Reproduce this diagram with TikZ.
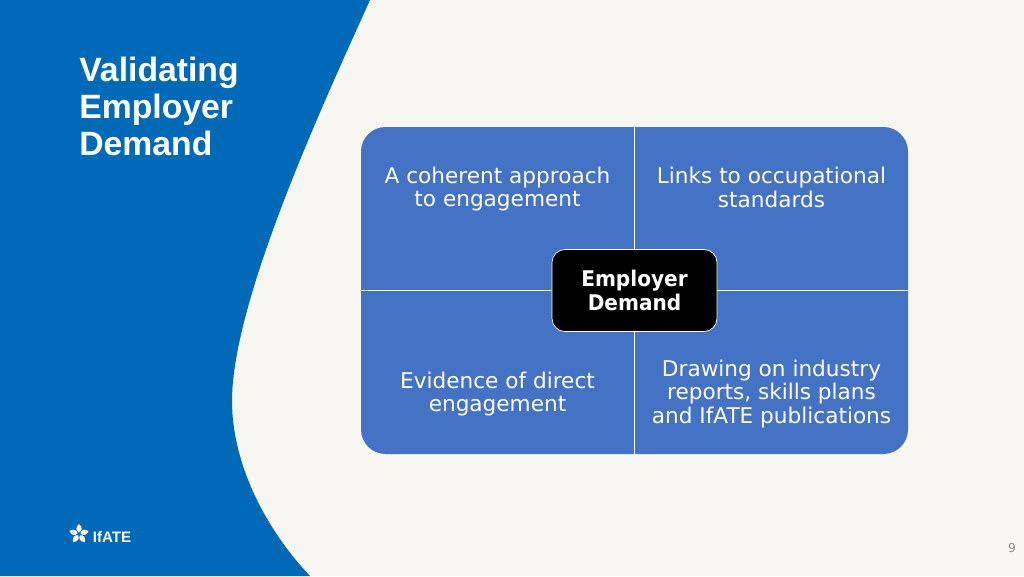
\documentclass[tikz,border=0pt]{standalone}
\usepackage{fontspec}
\setmainfont{DejaVu Sans}
\newfontfamily\titlefont{Liberation Sans}
\newfontfamily\hubfont{DejaVu Sans Bold}[FakeStretch=0.93]
\definecolor{sidebarblue}{HTML}{0069B8}
\definecolor{panelblue}{HTML}{4472C4}
\definecolor{pagecream}{HTML}{F7F6F1}
\definecolor{pagenum}{HTML}{8C8C8C}
\tikzset{
    quadtext/.style={text=white,align=center,font=\fontsize{12.3}{13.6}\selectfont},
    hubbox/.style={draw=white,fill=black,rounded corners=13pt*0.57,text=white,align=center,minimum width=165*0.02cm,minimum height=82*0.02cm,font=\hubfont\fontsize{12.3}{13.3}\selectfont},
    splitline/.style={draw=white,line width=0.5pt}
}
\begin{document}
\begin{tikzpicture}[x=0.02cm,y=-0.02cm]
    \useasboundingbox (0,0) rectangle (1024,576);
    \fill[pagecream] (0,0) rectangle (1024,576);

    % sidebar
    \fill[sidebarblue] (0,0) -- (370,0) .. controls (325,100) and (232,300) .. (232,401) .. controls (232,460) and (262,525) .. (310,576) -- (0,576) -- cycle;
    \node[anchor=north west,text=white,align=left,inner sep=0pt,font=\titlefont\fontsize{19.2}{21}\selectfont\bfseries] (title) at (79,57) {Validating\\Employer\\Demand};

    % logo
    \foreach \ang in {0,72,144,216,288} {
        \fill[white,rotate around={\ang:(79,534)}] (79,532.5) .. controls (75.5,530.5) and (75.5,527) .. (79,524) .. controls (82.5,527) and (82.5,530.5) .. (79,532.5) -- cycle;
    }
    \node[anchor=west,text=white,inner sep=0pt,font=\titlefont\fontsize{8.6}{10}\selectfont\bfseries] (logo) at (92.5,537) {IfATE};

    % panel
    \fill[panelblue,rounded corners=14pt] (361,127) rectangle (908,454);
    \coordinate (top) at (634.5,127);
    \coordinate (bottom) at (634.5,454);
    \coordinate (left) at (361,290.5);
    \coordinate (right) at (908,290.5);
    \draw[splitline] (top) -- (bottom);
    \draw[splitline] (left) -- (right);

    \node[hubbox] (hub) at (634.5,290.5) {Employer\\Demand};
    \node[quadtext] (approach) at (497.5,189) {A coherent approach\\to engagement};
    \node[quadtext] (links) at (771.5,187) {Links to occupational\\standards};
    \node[quadtext] (evidence) at (497.5,394) {Evidence of direct\\engagement};
    \node[quadtext] (reports) at (771.5,394) {Drawing on industry\\reports, skills plans\\and IfATE publications};

    \node[text=pagenum,font=\fontsize{7}{8}\selectfont] (pageno) at (1012,548) {9};
\end{tikzpicture}
\end{document}
